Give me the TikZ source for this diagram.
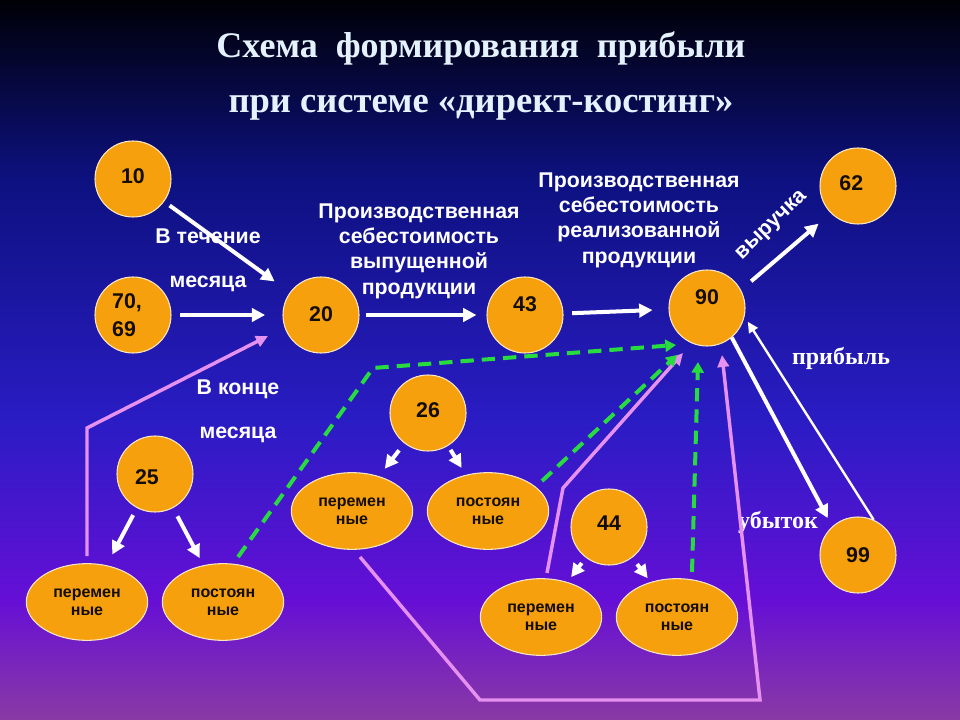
\documentclass[tikz,border=0pt]{standalone}
\usepackage{fontspec}
\setmainfont{Liberation Serif}
\setsansfont{Liberation Sans}
\usetikzlibrary{arrows.meta,shapes.geometric}
\definecolor{orng}{HTML}{F7A00D}
\definecolor{pinkl}{HTML}{E690F0}
\definecolor{grn}{HTML}{28DC40}
\definecolor{ttlc}{HTML}{E4F2FF}
\definecolor{bg0}{HTML}{000006}
\definecolor{bg1}{HTML}{0D1180}
\definecolor{bg2}{HTML}{2A1CC4}
\definecolor{bg3}{HTML}{660FD6}
\definecolor{bg4}{HTML}{8A3AA4}
\newcommand{\ctext}[2]{\raisebox{\dimexpr-5.7pt+#1\relax}[0pt][0pt]{#2}}
\begin{document}
\begin{tikzpicture}[x=0.75pt,y=-0.75pt,
  circ/.style={circle,fill=orng,draw=white!75!orng,line width=0.8pt,minimum size=57pt,inner sep=0pt,
    font=\sffamily\bfseries\fontsize{16}{21}\selectfont,text=black!92!orng},
  ell/.style={ellipse,fill=orng,draw=white!75!orng,line width=0.8pt,minimum width=91pt,minimum height=57.5pt,
    inner sep=0pt,align=center,font=\sffamily\bfseries\fontsize{12}{13.5}\selectfont,text=black!92!orng},
  warr/.style={draw=white,line width=3pt,-{Triangle[length=10pt,width=10pt]}},
  wthin/.style={draw=white,line width=1.8pt,-{Triangle[length=8pt,width=7.5pt]}},
  pline/.style={draw=pinkl,line width=2.6pt,-{Triangle[length=9pt,width=8.5pt]}},
  gdash/.style={draw=grn,line width=3pt,dash pattern=on 10pt off 6pt,-{Triangle[length=8pt,width=9pt]}},
  wlabel/.style={text=white,align=center,font=\sffamily\bfseries\fontsize{16}{19}\selectfont},
  slabel/.style={text=white,font=\bfseries\fontsize{18}{20}\selectfont},
  ttl/.style={text=ttlc}
]
\useasboundingbox (0,0) rectangle (960,720);
% background
\shade[top color=bg0,bottom color=bg1] (0,0) rectangle (960,181);
\shade[top color=bg1,bottom color=bg2] (0,180) rectangle (960,421);
\shade[top color=bg2,bottom color=bg3] (0,420) rectangle (960,601);
\shade[top color=bg3,bottom color=bg4] (0,600) rectangle (960,720);

% title
\tikzset{t1f/.style={font=\bfseries\fontsize{27}{32}\selectfont},t2f/.style={font=\bfseries\fontsize{27.4}{32}\selectfont}}
\node[ttl,t1f] (t1) at (481,48) {Схема~ формирования~ прибыли};
\node[ttl,t2f] (t2) at (481,108) {при системе «директ-костинг»};

% circles
\node[circ] (n10) at (133,179) {\ctext{2pt}{10}};
\node[circ,align=left] (n70) at (133,315) {\hspace*{-9pt}70,\\\hspace*{-9pt}69};
\node[circ] (n20) at (321,315) {\ctext{1pt}{20}};
\node[circ] (n43) at (525,315) {\ctext{8pt}{43}};
\node[circ] (n90) at (707,308) {\ctext{8pt}{90}};
\node[circ] (n62) at (858,186) {\ctext{2pt}{\hspace*{-10pt}62}};
\node[circ] (n99) at (858,555) {\ctext{0pt}{99}};
\node[circ] (n26) at (428,413) {\ctext{2pt}{26}};
\node[circ] (n25) at (155,474) {\ctext{-2pt}{\hspace*{-12pt}25}};
\node[circ] (n44) at (609,527) {\ctext{3pt}{44}};

% ellipses
\node[ell] (e25a) at (87,602) {перемен\\ные};
\node[ell] (e25b) at (223,602) {постоян\\ные};
\node[ell] (e26a) at (352,511) {перемен\\ные};
\node[ell] (e26b) at (488,511) {постоян\\ные};
\node[ell] (e44a) at (541,617) {перемен\\ные};
\node[ell] (e44b) at (677,617) {постоян\\ные};

% labels
\node[wlabel] (l1) at (419,251) {Производственная\\себестоимость\\выпущенной\\продукции};
\node[wlabel] (l2) at (639,220) {Производственная\\себестоимость\\реализованной\\продукции};
\node[wlabel,font=\sffamily\bfseries\fontsize{16}{33}\selectfont] (l3) at (208,260) {В течение\\месяца};
\node[wlabel,font=\sffamily\bfseries\fontsize{16}{33}\selectfont] (l4) at (238,411) {В конце\\месяца};
\node[wlabel,rotate=44,inner sep=1pt] (l5) at (772,226) {выручка};
\node[slabel] (l6) at (841,358) {прибыль};
\node[slabel] (l7) at (778,522) {убыток};

% white arrows
\draw[warr,shorten <=5pt,shorten >=14pt] (n10) -- (n20);
\draw[warr,shorten <=6.5pt,shorten >=13pt] (n70) -- (n20);
\draw[warr,shorten <=5pt,shorten >=7.5pt] (n20) -- (n43);
\draw[warr,shorten <=6.5pt,shorten >=12pt] (n43) -- (n90);
\draw[warr,shorten <=10pt,shorten >=12pt] (n90.28) -- (n62.225);
\draw[warr,shorten >=7pt] (n90.-50) -- (n99.132);
\draw[wthin,shorten >=4.5pt] (n99.66) -- (n90.-13);
\draw[warr,shorten <=6pt,shorten >=9pt] (n25) -- (e25a);
\draw[warr,shorten <=7pt,shorten >=6pt] (n25) -- (e25b);
\draw[warr,shorten <=6.5pt,shorten >=7pt] (n26) -- (e26a);
\draw[warr,shorten <=3.5pt,shorten >=6pt] (n26) -- (e26b);
\draw[warr,shorten <=5pt,shorten >=4.5pt] (n44) -- (e44a);
\draw[warr,shorten <=6pt,shorten >=3.5pt] (n44) -- (e44b);

% pink lines
\coordinate (pa1) at (87,556); \coordinate (pa2) at (87,428); \coordinate (pa3) at (268,336);
\draw[pline] (pa1) -- (pa2) -- (pa3);
\coordinate (pb1) at (360,557); \coordinate (pb2) at (480,700); \coordinate (pb3) at (760,700); \coordinate (pb4) at (722,355);
\draw[pline] (pb1) -- (pb2) -- (pb3) -- (pb4);
\coordinate (pc1) at (547,573); \coordinate (pc2) at (563,488); \coordinate (pc3) at (683,353);
\draw[pline] (pc1) -- (pc2) -- (pc3);

% green dashed
\coordinate (ga1) at (238,557); \coordinate (ga2) at (373,368); \coordinate (ga3) at (676,345);
\draw[gdash] (ga1) -- (ga2) -- (ga3);
\coordinate (gb1) at (542,481); \coordinate (gb2) at (677,355);
\draw[gdash] (gb1) -- (gb2);
\coordinate (gc1) at (692,572); \coordinate (gc2) at (698,362);
\draw[gdash] (gc1) -- (gc2);
\end{tikzpicture}
\end{document}
